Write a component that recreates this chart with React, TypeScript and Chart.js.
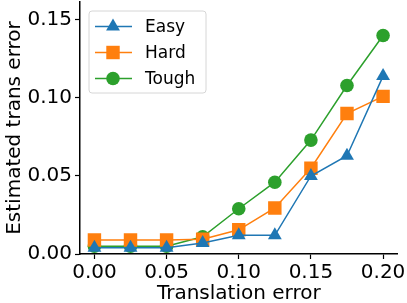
import React, { useEffect, useRef } from "react";
import { Chart, registerables } from "chart.js";

Chart.register(...registerables);

const xValues = [0, 0.025, 0.05, 0.075, 0.1, 0.125, 0.15, 0.175, 0.2];
const easy = [0.004, 0.004, 0.004, 0.007, 0.012, 0.012, 0.05, 0.063, 0.114];
const hard = [0.009, 0.009, 0.009, 0.0095, 0.0155, 0.0295, 0.055, 0.09, 0.101];
const tough = [0.005, 0.005, 0.005, 0.011, 0.029, 0.046, 0.073, 0.108, 0.14];
const xTicks = [0, 0.05, 0.1, 0.15, 0.2];
const yTicks = [0, 0.05, 0.1, 0.15];
const seriesLabels = ["Easy", "Hard", "Tough"];
const colors = ["#1f77b4", "#ff7f0e", "#2ca02c"];
const FONT = "'DejaVu Sans', sans-serif";
const AREA_TOP = 2;

function drawMarker(ctx: any, style: string, radius: number, x: number, y: number, color: string) {
  ctx.fillStyle = color;
  ctx.beginPath();
  if (style === "circle") {
    ctx.arc(x, y, radius, 0, Math.PI * 2);
  } else if (style === "rect") {
    const s = Math.SQRT1_2 * radius;
    ctx.rect(x - s, y - s, 2 * s, 2 * s);
  } else if (style === "triangle") {
    ctx.moveTo(x, y - radius);
    ctx.lineTo(x + Math.sin((2 * Math.PI) / 3) * radius, y - Math.cos((2 * Math.PI) / 3) * radius);
    ctx.lineTo(x + Math.sin((4 * Math.PI) / 3) * radius, y - Math.cos((4 * Math.PI) / 3) * radius);
  }
  ctx.closePath();
  ctx.fill();
}

const topFixPlugin = {
  id: "topFix",
  afterLayout(chart: any) {
    const ys = chart.scales.y;
    ys.top = AREA_TOP;
    ys.height = ys.bottom - AREA_TOP;
    chart.chartArea.top = AREA_TOP;
    chart.chartArea.height = chart.chartArea.bottom - AREA_TOP;
    ys.configure();
  },
};

const legendPlugin = {
  id: "innerLegend",
  afterDatasetsDraw(chart: any) {
    const ctx = chart.ctx;
    const area = chart.chartArea;
    const x0 = area.left + 9;
    const y0 = area.top + 9;
    const w = 117;
    const h = 82;
    const r = 3;
    ctx.save();
    ctx.beginPath();
    ctx.moveTo(x0 + r, y0);
    ctx.lineTo(x0 + w - r, y0);
    ctx.quadraticCurveTo(x0 + w, y0, x0 + w, y0 + r);
    ctx.lineTo(x0 + w, y0 + h - r);
    ctx.quadraticCurveTo(x0 + w, y0 + h, x0 + w - r, y0 + h);
    ctx.lineTo(x0 + r, y0 + h);
    ctx.quadraticCurveTo(x0, y0 + h, x0, y0 + h - r);
    ctx.lineTo(x0, y0 + r);
    ctx.quadraticCurveTo(x0, y0, x0 + r, y0);
    ctx.closePath();
    ctx.fillStyle = "rgba(255,255,255,0.8)";
    ctx.fill();
    ctx.strokeStyle = "#d6d6d6";
    ctx.lineWidth = 1;
    ctx.stroke();
    chart.data.datasets.forEach((ds: any, i: number) => {
      const cy = y0 + 15.5 + i * 26;
      ctx.beginPath();
      ctx.strokeStyle = ds.borderColor;
      ctx.lineWidth = 1.5;
      ctx.moveTo(x0 + 6, cy);
      ctx.lineTo(x0 + 43, cy);
      ctx.stroke();
      drawMarker(ctx, ds.pointStyle, ds.pointRadius, x0 + 24, cy, ds.backgroundColor);
      ctx.fillStyle = "#000";
      ctx.font = `17px ${FONT}`;
      ctx.textBaseline = "middle";
      ctx.textAlign = "left";
      ctx.fillText(ds.label, x0 + 56, cy + 1);
    });
    ctx.restore();
  },
};

export default function App() {
  const ref = useRef<HTMLCanvasElement>(null);
  useEffect(() => {
    document.body.style.margin = "0";
    const styles = ["triangle", "rect", "circle"];
    const radii = [8, 9.5, 6.8];
    const series = [easy, hard, tough];
    const chart = new Chart(ref.current as HTMLCanvasElement, {
      type: "line",
      data: {
        datasets: series.map((s, i) => ({
          label: seriesLabels[i],
          data: s.map((v, j) => ({ x: xValues[j], y: v })),
          borderColor: colors[i],
          backgroundColor: colors[i],
          borderWidth: 1.5,
          pointStyle: styles[i],
          pointRadius: radii[i],
          pointBorderWidth: 0,
          pointHoverRadius: radii[i],
          tension: 0,
        })),
      },
      options: {
        animation: false,
        responsive: false,
        layout: { padding: { left: 0, right: 9, top: 2, bottom: 0 } },
        plugins: { legend: { display: false }, tooltip: { enabled: false } },
        scales: {
          x: {
            type: "linear",
            min: -0.01,
            max: 0.21,
            afterBuildTicks: (s: any) => {
              s.ticks = xTicks.map((v) => ({ value: v }));
            },
            afterFit: (s: any) => {
              s.height = 49;
              s.paddingLeft = 0;
              s.paddingRight = 0;
            },
            ticks: {
              color: "#000",
              font: { family: FONT, size: 20 },
              padding: 2,
              maxRotation: 0,
              callback: (v: any) => Number(v).toFixed(2),
            },
            grid: { drawOnChartArea: false, drawTicks: true, tickLength: 5, color: "#000", tickWidth: 1.2 },
            border: { display: true, color: "#000", width: 1.5 },
            title: {
              display: true,
              text: "Translation error",
              color: "#000",
              font: { family: FONT, size: 20, lineHeight: 0.9 },
              padding: { top: 0, bottom: 0 },
            },
          },
          y: {
            type: "linear",
            min: 0,
            max: 0.1615,
            afterBuildTicks: (s: any) => {
              s.ticks = yTicks.map((v) => ({ value: v }));
            },
            afterFit: (s: any) => {
              s.width = 80;
            },
            ticks: {
              color: "#000",
              font: { family: FONT, size: 20 },
              padding: 3,
              callback: (v: any) => Number(v).toFixed(2),
            },
            grid: { drawOnChartArea: false, drawTicks: true, tickLength: 5, color: "#000", tickWidth: 1.2 },
            border: { display: true, color: "#000", width: 1.5 },
            title: {
              display: true,
              text: "Estimated trans error",
              color: "#000",
              font: { family: FONT, size: 20 },
              padding: { top: 3, bottom: 0 },
            },
          },
        },
      },
      plugins: [topFixPlugin, legendPlugin],
    } as any);
    return () => chart.destroy();
  }, []);
  return (
    <div style={{ position: "fixed", left: 0, top: 0, width: 407, height: 303 }}>
      <canvas ref={ref} width={407} height={303} style={{ width: 407, height: 303 }} />
    </div>
  );
}
